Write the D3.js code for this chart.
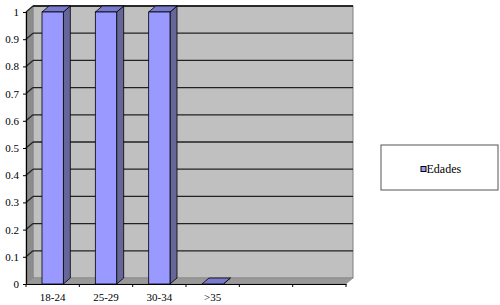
<!DOCTYPE html>
<html>
<head>
<meta charset="utf-8">
<script src="https://cdn.jsdelivr.net/npm/d3@7"></script>
<style>
  body { margin: 0; background: #fff; }
</style>
</head>
<body>
<div id="chart"></div>
<script>
// Data
var categories = ["18-24", "25-29", "30-34", ">35", "", ""];
var values = [1, 1, 1, 0];
var yTicks = [0, 0.1, 0.2, 0.3, 0.4, 0.5, 0.6, 0.7, 0.8, 0.9, 1];
var seriesName = "Edades";

var serif = "'Liberation Serif', 'Times New Roman', serif";

// Dimensions
var svgWidth = 500;
var svgHeight = 305;

// Plot area (front plane) and 3D depth offset
var plot = { left: 26, right: 346, top: 12, bottom: 284 };
var depth = { dx: 7, dy: -6 };

var svg = d3.select("#chart")
  .append("svg")
  .attr("width", svgWidth)
  .attr("height", svgHeight);

var xScale = d3.scaleBand()
  .domain(d3.range(categories.length))
  .range([plot.left, plot.right])
  .paddingInner(0)
  .paddingOuter(0);

var yScale = d3.scaleLinear()
  .domain([0, 1])
  .range([plot.bottom, plot.top]);

var barWidth = xScale.bandwidth() * 0.4;

function pts(arr) {
  return arr.map(p => p.join(",")).join(" ");
}

// Back wall
svg.append("rect")
  .attr("x", plot.left + depth.dx)
  .attr("y", plot.top + depth.dy)
  .attr("width", plot.right - plot.left)
  .attr("height", plot.bottom - plot.top)
  .attr("fill", "#c0c0c0")
  .attr("stroke", "#808080")
  .attr("stroke-width", 1);

// Side wall
svg.append("polygon")
  .attr("points", pts([
    [plot.left, plot.bottom],
    [plot.left, plot.top],
    [plot.left + depth.dx, plot.top + depth.dy],
    [plot.left + depth.dx, plot.bottom + depth.dy]
  ]))
  .attr("fill", "#8c8c8c")
  .attr("stroke", "#808080")
  .attr("stroke-width", 0.5);

// Floor
svg.append("polygon")
  .attr("points", pts([
    [plot.left, plot.bottom],
    [plot.right, plot.bottom],
    [plot.right + depth.dx, plot.bottom + depth.dy],
    [plot.left + depth.dx, plot.bottom + depth.dy]
  ]))
  .attr("fill", "#999999")
  .attr("stroke", "#808080")
  .attr("stroke-width", 0.5);

// top edge of the back wall
svg.append("line")
  .attr("x1", plot.left + depth.dx)
  .attr("x2", plot.right + depth.dx)
  .attr("y1", plot.top + depth.dy)
  .attr("y2", plot.top + depth.dy)
  .attr("stroke", "#222")
  .attr("stroke-width", 1.3);

// Gridlines (back wall + side wall)
var gridTicks = yTicks.filter(d => d > 0);
var grid = svg.append("g");
grid.selectAll(".gback")
  .data(gridTicks)
  .enter()
  .append("line")
  .attr("x1", plot.left + depth.dx)
  .attr("x2", plot.right + depth.dx)
  .attr("y1", d => yScale(d) + depth.dy)
  .attr("y2", d => yScale(d) + depth.dy)
  .attr("stroke", "#222")
  .attr("stroke-width", 1.3);
grid.selectAll(".gside")
  .data(gridTicks)
  .enter()
  .append("line")
  .attr("x1", plot.left)
  .attr("x2", plot.left + depth.dx)
  .attr("y1", d => yScale(d))
  .attr("y2", d => yScale(d) + depth.dy)
  .attr("stroke", "#222")
  .attr("stroke-width", 1.3);

// Bars
var bars = svg.append("g").selectAll("g")
  .data(values)
  .enter()
  .append("g");

function bx(i) { return xScale(i) + (xScale.bandwidth() - barWidth) / 2; }

// side face
bars.append("polygon")
  .attr("points", (d, i) => pts([
    [bx(i) + barWidth, yScale(d)],
    [bx(i) + barWidth + depth.dx, yScale(d) + depth.dy],
    [bx(i) + barWidth + depth.dx, yScale(0) + depth.dy],
    [bx(i) + barWidth, yScale(0)]
  ]))
  .attr("fill", "#666699")
  .attr("stroke", "#000")
  .attr("stroke-width", 0.8);

// top face
bars.append("polygon")
  .attr("points", (d, i) => pts([
    [bx(i), yScale(d)],
    [bx(i) + depth.dx, yScale(d) + depth.dy],
    [bx(i) + barWidth + depth.dx, yScale(d) + depth.dy],
    [bx(i) + barWidth, yScale(d)]
  ]))
  .attr("fill", "#7a7acc")
  .attr("stroke", "#000")
  .attr("stroke-width", 0.8);

// front face
bars.append("rect")
  .attr("x", (d, i) => bx(i))
  .attr("y", d => yScale(d))
  .attr("width", barWidth)
  .attr("height", d => yScale(0) - yScale(d))
  .attr("fill", "#9999ff")
  .attr("stroke", "#000")
  .attr("stroke-width", 0.8);

// Y axis
var leftAxis = d3.axisLeft(yScale)
  .tickValues(yTicks)
  .tickFormat(d => String(+d.toFixed(1)))
  .tickSize(3)
  .tickPadding(4);
var yAxis = svg.append("g")
  .attr("transform", `translate(${plot.left}, 0)`)
  .call(leftAxis);
yAxis.select(".domain").attr("stroke", "#000").attr("stroke-width", 1.2);
yAxis.selectAll("text")
  .style("font-family", serif)
  .style("font-size", "11px")
  .attr("fill", "#000");

// X axis
var bottomAxis = d3.axisBottom(xScale)
  .tickFormat(i => categories[i])
  .tickSize(0)
  .tickPadding(9);
var xAxis = svg.append("g")
  .attr("transform", `translate(0, ${plot.bottom})`)
  .call(bottomAxis);
xAxis.select(".domain").attr("stroke", "#000").attr("stroke-width", 1.2);
xAxis.selectAll("text")
  .style("font-family", serif)
  .style("font-size", "11px")
  .attr("fill", "#000");
xAxis.selectAll(".bound")
  .data(d3.range(categories.length + 1))
  .enter()
  .append("line")
  .attr("x1", i => plot.left + i * xScale.step())
  .attr("x2", i => plot.left + i * xScale.step())
  .attr("y1", 0)
  .attr("y2", 3)
  .attr("stroke", "#000");

// Legend
var legend = svg.append("g").attr("transform", "translate(381, 145)");
legend.append("rect")
  .attr("width", 117)
  .attr("height", 45)
  .attr("fill", "#fff")
  .attr("stroke", "#555")
  .attr("stroke-width", 1);
legend.append("rect")
  .attr("x", 40)
  .attr("y", 21.5)
  .attr("width", 5)
  .attr("height", 5)
  .attr("fill", "#9999ff")
  .attr("stroke", "#000")
  .attr("stroke-width", 1);
legend.append("text")
  .attr("x", 45.5)
  .attr("y", 27.5)
  .style("font-family", serif)
  .style("font-size", "12px")
  .attr("fill", "#000")
  .text(seriesName);
</script>
</body>
</html>
